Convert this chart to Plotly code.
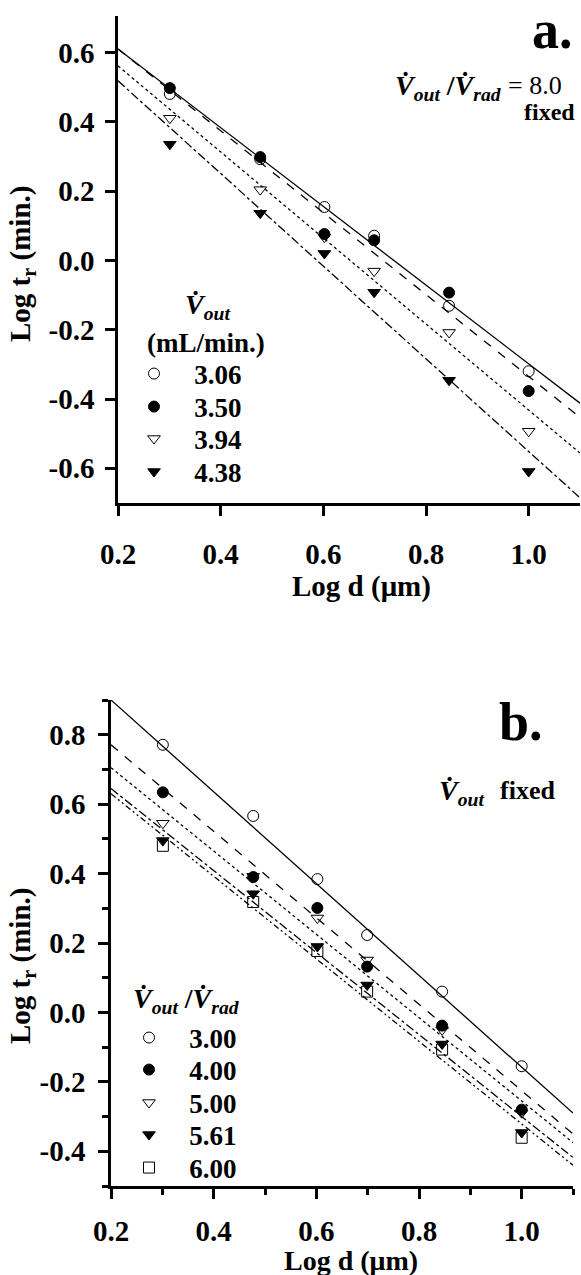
import plotly.graph_objects as go

W, H = 581, 1275
FONT = "Liberation Serif"

# ---------------- data: panel a ----------------
log_d = [0.301, 0.477, 0.602, 0.699, 0.845, 1.0]
a_names = ["3.06", "3.50", "3.94", "4.38"]
a_306 = [0.480, 0.292, 0.154, 0.071, -0.131, -0.320]
a_350 = [0.497, 0.298, 0.076, 0.058, -0.093, -0.377]
a_394 = [0.410, 0.204, 0.067, -0.031, -0.208, -0.493]
a_438 = [0.335, 0.136, 0.020, -0.092, -0.346, -0.609]
a_fit_x = [0.2, 1.1]
a_fit_306 = [0.610, -0.412]
a_fit_350 = [0.610, -0.453]
a_fit_394 = [0.561, -0.556]
a_fit_438 = [0.518, -0.685]

# ---------------- data: panel b ----------------
b_names = ["3.00", "4.00", "5.00", "5.61", "6.00"]
b_300 = [0.771, 0.566, 0.384, 0.223, 0.060, -0.155]
b_400 = [0.634, 0.390, 0.301, 0.132, -0.038, -0.280]
b_500 = [0.545, 0.392, 0.272, 0.151, -0.050, -0.289]
b_561 = [0.495, 0.342, 0.190, 0.079, -0.091, -0.346]
b_600 = [0.480, 0.318, 0.177, 0.060, -0.107, -0.361]
b_fit_x = [0.2, 1.1]
b_fit_300 = [0.900, -0.290]
b_fit_400 = [0.771, -0.350]
b_fit_500 = [0.705, -0.375]
b_fit_561 = [0.645, -0.418]
b_fit_600 = [0.630, -0.440]

x_ticks = [0.2, 0.4, 0.6, 0.8, 1.0]
x_ticktext = ["0.2", "0.4", "0.6", "0.8", "1.0"]
a_y_ticks = [-0.6, -0.4, -0.2, 0.0, 0.2, 0.4, 0.6]
a_y_ticktext = ["-0.6", "-0.4", "-0.2", "0.0", "0.2", "0.4", "0.6"]
b_y_ticks = [-0.4, -0.2, 0.0, 0.2, 0.4, 0.6, 0.8]
b_y_ticktext = ["-0.4", "-0.2", "0.0", "0.2", "0.4", "0.6", "0.8"]
b_x_minor = [0.3, 0.5, 0.7, 0.9, 1.1]
b_y_minor = [-0.5, -0.3, -0.1, 0.1, 0.3, 0.5, 0.7, 0.9]

# legend row positions (pixels)
a_leg_rows = [374, 407, 439, 472]
b_leg_rows = [1038, 1070, 1103, 1135, 1168]


def px_x(p):
    return p / W


def px_y(p):
    return 1 - p / H


fig = go.Figure()
legends = {}
legfont = dict(family=FONT, size=27, color="black", weight="bold")
PAD = "\u00a0\u00a0\u00a0"

symbols_a = ["circle-open", "circle", "triangle-down-open", "triangle-down"]
dashes_a = ["solid", "dash", "dot", "dashdot"]
a_series = [a_306, a_350, a_394, a_438]
a_fits = [a_fit_306, a_fit_350, a_fit_394, a_fit_438]
for fy, dsh in zip(a_fits, dashes_a):
    fig.add_trace(go.Scatter(x=a_fit_x, y=fy, mode="lines", xaxis="x", yaxis="y",
                             line=dict(color="black", width=1.3, dash=dsh),
                             showlegend=False, hoverinfo="skip"))
for i, (name, ys, sym) in enumerate(zip(a_names, a_series, symbols_a)):
    lg = "legend" if i == 0 else f"legend{i + 1}"
    fig.add_trace(go.Scatter(x=log_d, y=ys, mode="markers", name=PAD + name,
                             xaxis="x", yaxis="y",
                             marker=dict(symbol=sym, size=11, color="black",
                                         line=dict(color="black", width=1)),
                             legend=lg, cliponaxis=False))
    legends[lg] = dict(x=px_x(134), y=px_y(a_leg_rows[i]), xanchor="left", yanchor="middle",
                       font=legfont, bgcolor="rgba(0,0,0,0)", itemwidth=30)

symbols_b = ["circle-open", "circle", "triangle-down-open", "triangle-down", "square-open"]
dashes_b = ["solid", "dash", "dot", "dashdot", "6px,3px,2px,3px,2px,3px"]
b_series = [b_300, b_400, b_500, b_561, b_600]
b_fits = [b_fit_300, b_fit_400, b_fit_500, b_fit_561, b_fit_600]
for fy, dsh in zip(b_fits, dashes_b):
    fig.add_trace(go.Scatter(x=b_fit_x, y=fy, mode="lines", xaxis="x2", yaxis="y2",
                             line=dict(color="black", width=1.3, dash=dsh),
                             showlegend=False, hoverinfo="skip"))
for i, (name, ys, sym) in enumerate(zip(b_names, b_series, symbols_b)):
    lg = f"legend{i + 5}"
    fig.add_trace(go.Scatter(x=log_d, y=ys, mode="markers", name=PAD + name,
                             xaxis="x2", yaxis="y2",
                             marker=dict(symbol=sym, size=11, color="black",
                                         line=dict(color="black", width=1)),
                             legend=lg, cliponaxis=False))
    legends[lg] = dict(x=px_x(129), y=px_y(b_leg_rows[i]), xanchor="left", yanchor="middle",
                       font=legfont, bgcolor="rgba(0,0,0,0)", itemwidth=30)

tickfont = dict(family=FONT, size=29, color="black", weight="bold")
axis_common = dict(showline=True, linecolor="black", linewidth=2.6, ticks="outside",
                   ticklen=10, tickwidth=2.6, tickcolor="black", showgrid=False,
                   zeroline=False, tickfont=tickfont, automargin=False, mirror=False)

fig.update_layout(
    width=W, height=H, margin=dict(l=0, r=0, t=0, b=0),
    paper_bgcolor="white", plot_bgcolor="white",
    font=dict(family=FONT, color="black"),
    xaxis=dict(domain=[px_x(118), px_x(580)], range=[0.2, 1.1], anchor="y",
               tickmode="array", tickvals=x_ticks, ticktext=x_ticktext,
               ticklabelstandoff=13, **axis_common),
    yaxis=dict(domain=[px_y(503), px_y(16)], range=[-0.7, 0.705], anchor="x",
               tickmode="array", tickvals=a_y_ticks, ticktext=a_y_ticktext,
               ticklabelstandoff=5, **axis_common),
    xaxis2=dict(domain=[px_x(111), px_x(573)], range=[0.2, 1.1], anchor="y2",
                tickmode="array", tickvals=x_ticks, ticktext=x_ticktext,
                ticklabelstandoff=7,
                minor=dict(tickvals=b_x_minor, ticklen=6, tickwidth=2.6, tickcolor="black", ticks="outside"),
                **axis_common),
    yaxis2=dict(domain=[px_y(1186), px_y(700)], range=[-0.5, 0.9], anchor="x2",
                tickmode="array", tickvals=b_y_ticks, ticktext=b_y_ticktext,
                ticklabelstandoff=7,
                minor=dict(tickvals=b_y_minor, ticklen=6, tickwidth=2.6, tickcolor="black", ticks="outside"),
                **axis_common),
    **legends,
)

VDOT = "V\u0307"
vout = f"<i>{VDOT}<sub>out</sub></i>"
vrad = f"<i>{VDOT}<sub>rad</sub></i>"


def ann(text, x, y, size, xanchor="center", yanchor="middle", bold=True, angle=0):
    fig.add_annotation(text=text, x=px_x(x), y=px_y(y), xref="paper", yref="paper",
                       xanchor=xanchor, yanchor=yanchor, showarrow=False, textangle=angle,
                       font=dict(family=FONT, size=size, color="black",
                                 weight="bold" if bold else "normal"))


# panel a texts
ann("a.", 552, 30, 54)
ann(f"{vout} /{vrad}", 504, 88, 28, xanchor="right")
ann("= 8.0", 506, 86, 26, xanchor="left", bold=False)
ann("fixed", 577, 112, 24, xanchor="right")
ann(vout, 207, 306, 28)
ann("(mL/min.)", 206, 343, 27)
ann("Log d (\u03bcm)", 361, 586, 29)
ann("Log t<sub>r</sub> (min.)", 22, 264, 29, angle=-90)

# panel b texts
ann("b.", 521, 722, 54)
ann(vout, 437, 792, 28, xanchor="left")
ann("fixed", 498, 790, 26, xanchor="left")
ann(f"{vout} /{vrad}", 131, 1000, 28, xanchor="left")
ann("Log d (\u03bcm)", 351, 1260, 28)
ann("Log t<sub>r</sub> (min.)", 22, 966, 29, angle=-90)

fig.write_html("out.html")
